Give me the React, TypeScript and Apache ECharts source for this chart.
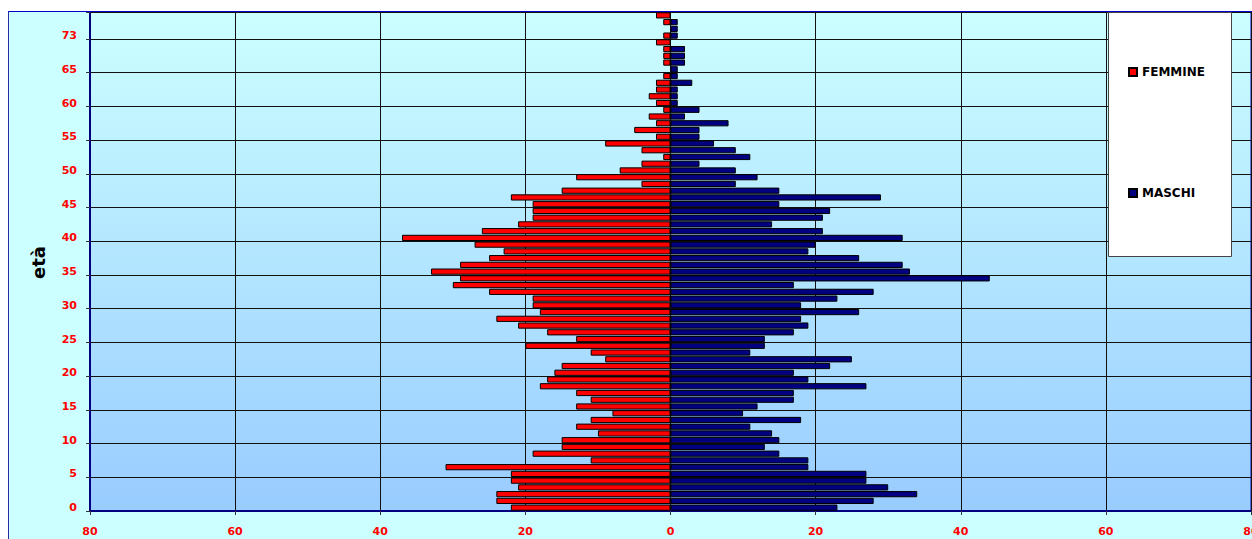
import React, { useEffect, useRef } from "react";
import * as echarts from "echarts";

// Age categories (bottom to top). Only every 5th label is shown on the axis.
const ages = [
  "0", "1", "2", "3", "4", "5", "6", "7", "8", "9",
  "10", "11", "12", "13", "14", "15", "16", "17", "18", "19",
  "20", "21", "22", "23", "24", "25", "26", "27", "28", "29",
  "30", "31", "32", "33", "34", "35", "36", "37", "38", "39",
  "40", "41", "42", "43", "44", "45", "46", "47", "48", "49",
  "50", "51", "52", "53", "54", "55", "56", "57", "58", "59",
  "60", "61", "62", "63", "64", "65", "66", "67", "69", "71",
  "73", "74", "76", "80",
];

const femmine = [
  22, 24, 24, 21, 22, 22, 31, 11, 19, 15,
  15, 10, 13, 11, 8, 13, 11, 13, 18, 17,
  16, 15, 9, 11, 20, 13, 17, 21, 24, 18,
  19, 19, 25, 30, 29, 33, 29, 25, 23, 27,
  37, 26, 21, 19, 19, 19, 22, 15, 4, 13,
  7, 4, 1, 4, 9, 2, 5, 2, 3, 1,
  2, 3, 2, 2, 1, 0, 1, 1, 1, 2,
  1, 0, 1, 2,
];

const maschi = [
  23, 28, 34, 30, 27, 27, 19, 19, 15, 13,
  15, 14, 11, 18, 10, 12, 17, 17, 27, 19,
  17, 22, 25, 11, 13, 13, 17, 19, 18, 26,
  18, 23, 28, 17, 44, 33, 32, 26, 19, 20,
  32, 21, 14, 21, 22, 15, 29, 15, 9, 12,
  9, 4, 11, 9, 6, 4, 4, 8, 2, 4,
  1, 1, 1, 3, 1, 1, 2, 2, 2, 0,
  1, 1, 1, 0,
];

const seriesNames = ["FEMMINE", "MASCHI"];
const axisName = "età";

const FONT = "DejaVu Sans";

export default function App() {
  const ref = useRef<HTMLDivElement>(null);

  useEffect(() => {
    if (!ref.current) return;
    const chart = echarts.init(ref.current, null, {
      renderer: "svg",
      width: 1243,
      height: 527,
    });

    const option = {
      animation: false,
      textStyle: { fontFamily: FONT },
      grid: {
        left: 81,
        right: 1,
        top: 0,
        bottom: 28,
        outerBoundsMode: "none",
        containLabel: false,
        show: true,
        backgroundColor: new echarts.graphic.LinearGradient(0, 0, 0, 1, [
          { offset: 0, color: "#CCFFFF" },
          { offset: 1, color: "#99CCFF" },
        ]),
        borderColor: "#0000CC",
        borderWidth: 1,
      },
      xAxis: {
        type: "value",
        min: -80,
        max: 80,
        interval: 20,
        axisLine: {
          show: true,
          onZero: false,
          lineStyle: { color: "#000080", width: 2 },
        },
        axisTick: { show: true, length: 4, lineStyle: { color: "#333333" } },
        axisLabel: {
          formatter: (v: number) => String(Math.abs(v)),
          color: "#FF0000",
          fontWeight: "bold",
          fontSize: 11,
          fontFamily: FONT,
          margin: 15,
        },
        splitLine: { show: true, lineStyle: { color: "#111111", width: 1 } },
      },
      yAxis: {
        type: "category",
        data: ages,
        axisLine: {
          show: true,
          onZero: false,
          lineStyle: { color: "#000080", width: 2 },
        },
        axisTick: {
          show: true,
          interval: 4,
          length: 4,
          lineStyle: { color: "#333333" },
        },
        axisLabel: {
          interval: 4,
          color: "#FF0000",
          fontWeight: "bold",
          fontSize: 11,
          fontFamily: FONT,
          margin: 13,
          padding: [4, 0, 0, 0],
        },
        splitLine: {
          show: true,
          interval: 4,
          lineStyle: { color: "#111111", width: 1 },
        },
      },
      legend: {
        orient: "vertical",
        left: 1119,
        top: 54,
        padding: 0,
        itemWidth: 8,
        itemHeight: 8,
        itemGap: 109,
        icon: "rect",
        z: 20,
        data: seriesNames,
        textStyle: {
          fontFamily: FONT,
          fontWeight: "bold",
          fontSize: 12,
          color: "#000000",
        },
      },
      graphic: [
        {
          type: "rect",
          z: 10,
          shape: { x: 1099.5, y: 0.5, width: 123, height: 244 },
          style: { fill: "#FFFFFF", stroke: "#444444", lineWidth: 1 },
        },
        {
          type: "text",
          z: 10,
          x: 29.5,
          y: 250.5,
          rotation: Math.PI / 2,
          style: {
            text: axisName,
            fontFamily: FONT,
            fontWeight: "bold",
            fontSize: 18,
            fill: "#000000",
            textAlign: "center",
            textVerticalAlign: "middle",
          },
        },
      ],
      series: [
        {
          name: seriesNames[0],
          type: "bar",
          data: femmine.map((v) => (v === 0 ? "-" : -v)),
          barGap: "-100%",
          barCategoryGap: "8%",
          itemStyle: { color: "#FF0000", borderColor: "#000000", borderWidth: 1 },
        },
        {
          name: seriesNames[1],
          type: "bar",
          data: maschi.map((v) => (v === 0 ? "-" : v)),
          barGap: "-100%",
          barCategoryGap: "8%",
          itemStyle: { color: "#000080", borderColor: "#000000", borderWidth: 1 },
        },
      ],
    };

    chart.setOption(option as any);
    return () => chart.dispose();
  }, []);

  return (
    <div
      ref={ref}
      style={{
        position: "absolute",
        left: 8,
        top: 11,
        width: 1243,
        height: 527,
        borderTop: "1px solid #0000CC",
        borderLeft: "1px solid #2A2AA8",
        background: "#CCFFFF",
      }}
    />
  );
}
